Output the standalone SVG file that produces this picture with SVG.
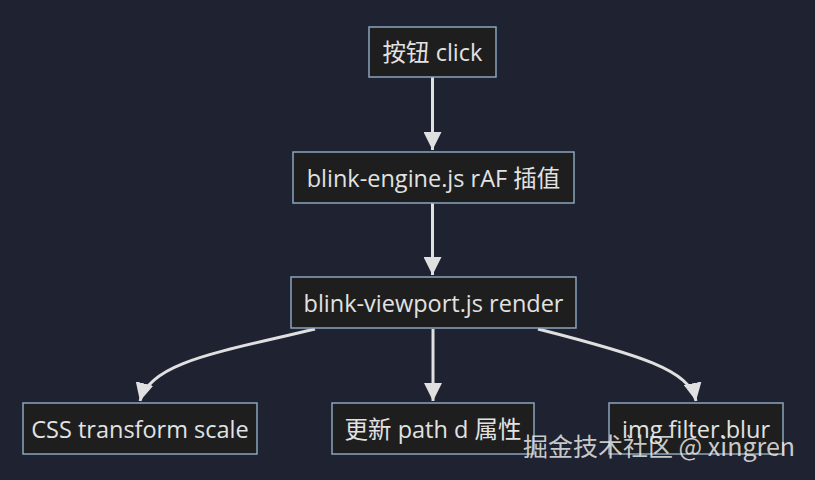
<svg xmlns="http://www.w3.org/2000/svg" width="815" height="480" viewBox="0 0 815 480">
<style>
.bg{fill:#1f2230}
.node rect{fill:#1e1e1e;stroke:#8aa4bf;stroke-width:1.5}
.node text{fill:#e2e2e2;font-family:"Open Sans","Noto Sans CJK SC",sans-serif;font-size:23.5px;text-anchor:middle;dominant-baseline:central}
.edge{fill:none;stroke:#e0e0e0;stroke-width:3}
.wm{fill:#e8e8e8;fill-opacity:0.85;font-family:"Noto Sans CJK SC",sans-serif;font-size:25px}
</style>
<defs>
<marker id="arr" viewBox="0 0 10 10" refX="10" refY="5" markerWidth="6" markerHeight="6" markerUnits="strokeWidth" orient="auto">
<path d="M0,0 L10,5 L0,10 z" fill="#e0e0e0"/>
</marker>
</defs>
<rect class="bg" x="0" y="0" width="815" height="480"/>
<g id="edges">
<path class="edge" d="M432.5,77 L432.5,150" marker-end="url(#arr)"/>
<path class="edge" d="M432.5,203 L432.5,275" marker-end="url(#arr)"/>
<path class="edge" d="M315,329 C220,352 150,362 140,401" marker-end="url(#arr)"/>
<path class="edge" d="M433,329 L433,401" marker-end="url(#arr)"/>
<path class="edge" d="M538,329 C640,355 690,370 696,401" marker-end="url(#arr)"/>
</g>
<g id="n1" class="node"><rect x="369" y="27" width="127" height="50"/><text x="432.5" y="52">按钮 click</text></g>
<g id="n2" class="node"><rect x="293" y="152" width="281" height="51"/><text x="433.5" y="177.5">blink-engine.js rAF 插值</text></g>
<g id="n3" class="node"><rect x="291" y="277" width="285" height="51"/><text x="433.5" y="302.5">blink-viewport.js render</text></g>
<g id="n4" class="node"><rect x="23" y="403" width="234" height="51"/><text x="140" y="428.5">CSS transform scale</text></g>
<g id="n5" class="node"><rect x="332" y="403" width="202" height="51"/><text x="433" y="428.5">更新 path d 属性</text></g>
<g id="n6" class="node"><rect x="609" y="403" width="174" height="51"/><text x="696" y="428.5">img filter.blur</text></g>
<text class="wm" x="523" y="456">掘金技术社区 @ xingren</text>
</svg>
